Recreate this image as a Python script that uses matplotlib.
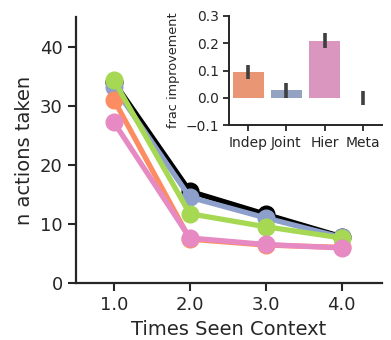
import numpy as np
import matplotlib.pyplot as plt
import seaborn as sns

# main panel: n actions taken per model
times = [1.0, 2.0, 3.0, 4.0]
time_labels = ['1.0', '2.0', '3.0', '4.0']
black_vals = [34.0, 15.5, 11.6, 7.8]
joint_vals = [33.2, 14.5, 11.0, 7.7]
indep_vals = [31.0, 7.4, 6.4, 6.0]
meta_vals = [34.3, 11.7, 9.5, 7.6]
hier_vals = [27.2, 7.6, 6.5, 5.9]

# inset: frac improvement
models = ['Indep', 'Joint', 'Hier', 'Meta']
frac_imp = [0.095, 0.027, 0.207, -0.002]
ci_lo = [0.070, 0.000, 0.183, -0.025]
ci_hi = [0.122, 0.055, 0.237, 0.025]

set2 = sns.color_palette('Set2')
c_indep, c_joint, c_meta, c_hier = set2[1], set2[2], set2[4], set2[3]

plt.rcParams['font.family'] = ['DejaVu Sans']
fig = plt.figure(figsize=(3.91, 3.40), dpi=100)
ax = fig.add_axes([0.194, 0.168, 0.783, 0.782])

lw = 3.8
ms = 12
ax.plot(times, black_vals, '-o', color='black', lw=lw, ms=ms, zorder=2)
ax.plot(times, joint_vals, '-o', color=c_joint, lw=lw, ms=ms, zorder=3)
ax.plot(times, indep_vals, '-o', color=c_indep, lw=lw, ms=ms, zorder=4)
ax.plot(times, meta_vals, '-o', color=c_meta, lw=lw, ms=ms, zorder=5)
ax.plot(times, hier_vals, '-o', color=c_hier, lw=lw, ms=ms, zorder=6)

ax.set_xlim(0.5, 4.53)
ax.set_ylim(0, 45)
ax.set_xticks(times)
ax.set_xticklabels(time_labels)
ax.set_yticks([0, 10, 20, 30, 40])
ax.set_xlabel('Times Seen Context', fontsize=14, color='#262626')
ax.set_ylabel('n actions taken', fontsize=14, color='#262626')
ax.tick_params(labelsize=13, length=6, width=1.5, colors='#262626')
for s in ['top', 'right']:
    ax.spines[s].set_visible(False)
for s in ['left', 'bottom']:
    ax.spines[s].set_linewidth(1.6)
    ax.spines[s].set_color('#262626')

# inset
ins = fig.add_axes([0.586, 0.632, 0.391, 0.321])
x = np.arange(len(models))
bar_cols = [sns.desaturate(c, 0.75) for c in [c_indep, c_joint, c_hier, c_meta]]
ins.bar(x, frac_imp, width=0.8, color=bar_cols)
for xi, lo, hi in zip(x, ci_lo, ci_hi):
    ins.plot([xi, xi], [lo, hi], color='#3f3f3f', lw=2.6, solid_capstyle='butt')
ins.set_xlim(-0.5, 3.5)
ins.set_ylim(-0.1, 0.3)
ins.set_yticks([-0.1, 0.0, 0.1, 0.2, 0.3])
ins.set_xticks(x)
ins.set_xticklabels(models)
ins.set_ylabel('frac improvement', fontsize=9.3, color='#262626')
ins.tick_params(labelsize=10, length=4, width=1.3, colors='#262626')
for s in ['top', 'right']:
    ins.spines[s].set_visible(False)
for s in ['left', 'bottom']:
    ins.spines[s].set_linewidth(1.4)
    ins.spines[s].set_color('#262626')

fig.savefig('out.png', dpi=100)
